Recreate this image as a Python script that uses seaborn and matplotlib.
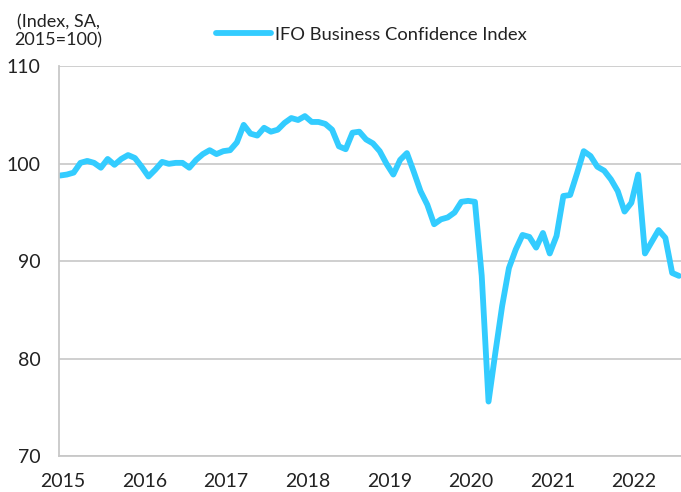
import seaborn as sns
import matplotlib.pyplot as plt
import pandas as pd
import numpy as np

sns.set_style("white")
plt.rcParams['font.family'] = ['Lato', 'DejaVu Sans']

# Monthly IFO values, Jan 2015 - Aug 2022
ifo_2015 = [98.8, 98.9, 99.1, 100.1, 100.3, 100.1, 99.6, 100.5, 99.9, 100.5, 100.9, 100.6]
ifo_2016 = [99.7, 98.7, 99.4, 100.2, 100.0, 100.1, 100.1, 99.6, 100.4, 101.0, 101.4, 101.0]
ifo_2017 = [101.3, 101.4, 102.2, 104.0, 103.1, 102.9, 103.7, 103.3, 103.5, 104.2, 104.7, 104.5]
ifo_2018 = [104.9, 104.3, 104.3, 104.1, 103.5, 101.8, 101.5, 103.2, 103.3, 102.5, 102.1, 101.3]
ifo_2019 = [100.0, 98.9, 100.4, 101.1, 99.2, 97.2, 95.8, 93.8, 94.3, 94.5, 95.0, 96.1]
ifo_2020 = [96.2, 96.1, 88.5, 75.6, 80.6, 85.4, 89.3, 91.2, 92.7, 92.5, 91.4, 92.9]
ifo_2021 = [90.8, 92.6, 96.7, 96.8, 99.0, 101.3, 100.8, 99.7, 99.3, 98.4, 97.2, 95.1]
ifo_2022 = [96.0, 98.9, 90.8, 92.0, 93.2, 92.4, 88.8, 88.5]

years = [2015, 2016, 2017, 2018, 2019, 2020, 2021, 2022]
series_name = "IFO Business Confidence Index"

values = ifo_2015 + ifo_2016 + ifo_2017 + ifo_2018 + ifo_2019 + ifo_2020 + ifo_2021 + ifo_2022
df = pd.DataFrame({"month": np.arange(len(values)), "value": values})

fig = plt.figure(figsize=(6.81, 4.92), dpi=100)
ax = fig.add_axes([0.086, 0.073, 0.914, 0.792])

sns.lineplot(data=df, x="month", y="value", ax=ax, color="#33CCFF",
             linewidth=4.2, label=series_name, solid_capstyle="round")

ax.set_xlim(-0.22, 91.3)
ax.set_ylim(70, 110)
ax.set_yticks([70, 80, 90, 100, 110])
ax.set_xticks([i * 12 + 0.4 for i in range(len(years))])
ax.set_xticklabels([str(y) for y in years])
ax.yaxis.grid(True, color="#cccccc", linewidth=1.3)
ax.set_axisbelow(True)
ax.tick_params(axis="both", length=0, labelsize=14, colors="#222222")
ax.tick_params(axis="y", pad=13)
ax.tick_params(axis="x", pad=12)
ax.set_xlabel("")
ax.set_ylabel("")

for side in ["top", "right"]:
    ax.spines[side].set_visible(False)
ax.spines["left"].set_color("#c8c8c8")
ax.spines["left"].set_linewidth(1.3)
ax.spines["bottom"].set_color("#c8c8c8")
ax.spines["bottom"].set_linewidth(1.3)

fig.text(0.086, 0.937, "(Index, SA,\n2015=100)", ha="center", va="center",
         fontsize=13, color="#222222", linespacing=1.15)

ax.legend(loc="center", bbox_to_anchor=(0.503, 1.081), frameon=False,
          fontsize=13.2, handlelength=2.95, handletextpad=0.25, borderaxespad=0)
for t in ax.get_legend().get_texts():
    t.set_color("#222222")

fig.savefig("out.png", dpi=100)
plt.close(fig)
